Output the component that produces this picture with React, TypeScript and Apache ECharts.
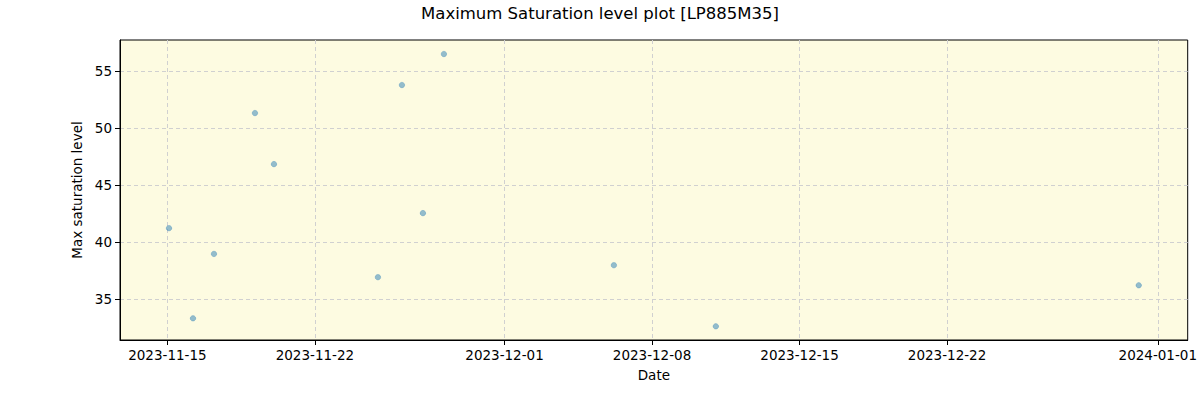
import React, { useEffect, useRef } from "react";
import * as echarts from "echarts";

const dates: string[] = [
  "2023-11-15T01:50",
  "2023-11-16T05:10",
  "2023-11-17T05:04",
  "2023-11-19T03:45",
  "2023-11-20T01:23",
  "2023-11-24T23:48",
  "2023-11-26T03:08",
  "2023-11-27T03:02",
  "2023-11-28T02:57",
  "2023-12-06T04:32",
  "2023-12-11T00:40",
  "2023-12-31T02:20",
];
const values: number[] = [41.21, 33.3, 38.95, 51.31, 46.83, 36.91, 53.77, 42.53, 56.49, 37.96, 32.6, 36.2];

const xTickDates: string[] = ["2023-11-15", "2023-11-22", "2023-12-01", "2023-12-08", "2023-12-15", "2023-12-22", "2024-01-01"];
const yTicks: number[] = [35, 40, 45, 50, 55];

const xMin = "2023-11-12T18:02";
const xMax = "2024-01-02T10:05";
const yMin = 31.4;
const yMax = 57.72;

const ts = (s: string) => {
  const [d, t] = s.split("T");
  const [y, m, dd] = d.split("-").map(Number);
  const [hh, mm] = (t || "00:00").split(":").map(Number);
  return new Date(y, m - 1, dd, hh, mm).getTime();
};

const pad = (n: number) => (n < 10 ? "0" + n : "" + n);
const fmt = (v: number) => {
  const d = new Date(v);
  return d.getFullYear() + "-" + pad(d.getMonth() + 1) + "-" + pad(d.getDate());
};

const FONT = "DejaVu Sans";

export default function App() {
  const ref = useRef<HTMLDivElement>(null);
  useEffect(() => {
    if (!ref.current) return;
    document.body.style.margin = "0";
    document.body.style.overflow = "hidden";
    const chart = echarts.init(ref.current, undefined, { renderer: "svg" });
    const xTicks = xTickDates.map(ts);
    chart.setOption({
      animation: false,
      backgroundColor: "#ffffff",
      title: {
        text: "Maximum Saturation level plot [LP885M35]",
        left: "center",
        top: 0,
        textStyle: { fontFamily: FONT, fontSize: 16.5, fontWeight: "normal", color: "#000" },
      },
      grid: {
        left: 120,
        right: 12,
        top: 40,
        bottom: 60,
        show: true,
        backgroundColor: "#fdfbe1",
        borderColor: "#000",
        borderWidth: 1,
      },
      xAxis: {
        type: "value",
        min: ts(xMin),
        max: ts(xMax),
        name: "Date",
        nameLocation: "middle",
        nameGap: 28,
        nameTextStyle: { fontFamily: FONT, fontSize: 13.5, color: "#000" },
        axisLine: { show: true, onZero: false, lineStyle: { color: "#000", width: 1 } },
        axisTick: { show: true, length: 5, lineStyle: { color: "#000" }, customValues: xTicks },
        axisLabel: {
          fontFamily: FONT,
          fontSize: 13.5,
          color: "#000",
          margin: 8,
          customValues: xTicks,
          formatter: (v: number) => fmt(v),
        },
        splitLine: { show: true, lineStyle: { color: "#d0d0d0", type: [4, 3], width: 1 } },
      },
      yAxis: {
        type: "value",
        min: yMin,
        max: yMax,
        name: "Max saturation level",
        nameLocation: "middle",
        nameGap: 34,
        nameRotate: 90,
        nameTextStyle: { fontFamily: FONT, fontSize: 13.5, color: "#000" },
        axisLine: { show: true, lineStyle: { color: "#000", width: 1 } },
        axisTick: { show: true, length: 5, lineStyle: { color: "#000" }, customValues: yTicks },
        axisLabel: {
          fontFamily: FONT,
          fontSize: 13.5,
          color: "#000",
          margin: 8,
          customValues: yTicks,
        },
        splitLine: { show: true, lineStyle: { color: "#d0d0d0", type: [4, 3], width: 1 } },
      },
      series: [
        {
          type: "scatter",
          symbolSize: 5.5,
          itemStyle: { color: "rgba(31,119,180,0.6)", borderColor: "rgba(31,119,180,0.7)", borderWidth: 0.5 },
          data: dates.map((d, i) => [ts(d), values[i]]),
        },
      ],
    });
    return () => chart.dispose();
  }, []);
  return <div ref={ref} style={{ width: 1200, height: 400 }} />;
}
